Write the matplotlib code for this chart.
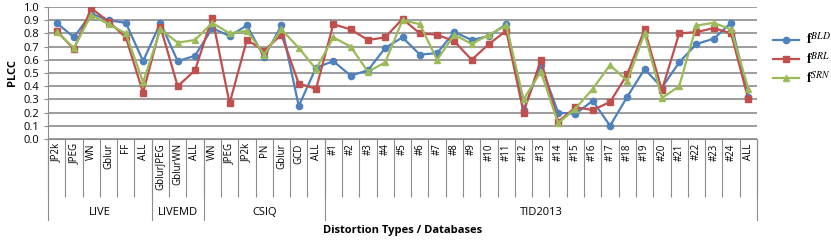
import matplotlib
matplotlib.use("Agg")
from matplotlib import pyplot as plt
import numpy

plt.rcParams['font.family'] = ['Open Sans', 'DejaVu Sans']
plt.rcParams['mathtext.fontset'] = 'stix'

categories = ['JP2k', 'JPEG', 'WN', 'Gblur', 'FF', 'ALL',
              'GblurJPEG', 'GblurWN', 'ALL',
              'WN', 'JPEG', 'JP2k', 'PN', 'Gblur', 'GCD', 'ALL'] + \
             ['#%d' % k for k in range(1, 25)] + ['ALL']
groups = ['LIVE', 'LIVEMD', 'CSIQ', 'TID2013']
group_sizes = [6, 3, 7, 25]

bld = [0.88, 0.77, 0.95, 0.90, 0.88, 0.59,
       0.88, 0.59, 0.63,
       0.84, 0.78, 0.86, 0.62, 0.86, 0.25, 0.54,
       0.59, 0.48, 0.52, 0.69, 0.77, 0.64, 0.65, 0.81, 0.75, 0.78,
       0.87, 0.22, 0.56, 0.20, 0.19, 0.29, 0.10, 0.32, 0.53, 0.39,
       0.58, 0.72, 0.76, 0.88, 0.32]
brl = [0.82, 0.68, 0.99, 0.89, 0.77, 0.35,
       0.85, 0.40, 0.52,
       0.92, 0.27, 0.75, 0.67, 0.79, 0.42, 0.38,
       0.87, 0.83, 0.75, 0.77, 0.91, 0.80, 0.79, 0.74, 0.60, 0.72,
       0.82, 0.20, 0.60, 0.13, 0.24, 0.22, 0.28, 0.49, 0.83, 0.37,
       0.80, 0.81, 0.84, 0.80, 0.30]
srn = [0.81, 0.69, 0.94, 0.87, 0.80, 0.43,
       0.83, 0.73, 0.75,
       0.88, 0.80, 0.82, 0.64, 0.83, 0.69, 0.53,
       0.77, 0.70, 0.51, 0.58, 0.90, 0.87, 0.60, 0.79, 0.72, 0.79,
       0.86, 0.30, 0.51, 0.12, 0.23, 0.38, 0.56, 0.44, 0.80, 0.31,
       0.40, 0.86, 0.88, 0.83, 0.38]

grey = '#8c8c8c'
fig = plt.figure(figsize=(8.31, 2.41), dpi=100)
ax = fig.add_axes([48/831, 102/241, 709/831, 132/241])

x = numpy.arange(len(categories)) + 0.5
ax.plot(x, bld, '-o', color='#4F81BD', lw=1.6, ms=4.5, label=r'$\mathbf{f}^{BLD}$')
ax.plot(x, brl, '-s', color='#C0504D', lw=1.6, ms=4.5, label=r'$\mathbf{f}^{BRL}$')
ax.plot(x, srn, '-^', color='#9BBB59', lw=1.6, ms=5, label=r'$\mathbf{f}^{SRN}$')

ax.set_xlim(0, len(categories))
ax.set_ylim(0, 1.0)
ax.set_yticks(numpy.arange(0, 1.01, 0.1))
ax.set_yticklabels(['%.1f' % v for v in numpy.arange(0, 1.01, 0.1)], fontsize=8)
ax.yaxis.grid(True, color=grey, lw=1.2)
ax.set_axisbelow(True)
for s in ('top', 'right'):
    ax.spines[s].set_visible(False)
for s in ('left', 'bottom'):
    ax.spines[s].set_color(grey)
ax.tick_params(axis='y', color=grey, length=3)

ax.set_xticks(x)
ax.set_xticklabels(categories, rotation=90, fontsize=7)
ax.tick_params(axis='x', length=0, pad=3)
ax.set_xticks(numpy.arange(len(categories) + 1), minor=True)
ax.tick_params(axis='x', which='minor', length=42, color=grey, width=0.8)

# group separators and names
trans = ax.get_xaxis_transform()
bounds = numpy.concatenate([[0], numpy.cumsum(group_sizes)])
for b in bounds:
    ax.plot([b, b], [0, -0.61], color=grey, lw=0.8, transform=trans, clip_on=False)
for name, a, b in zip(groups, bounds[:-1], bounds[1:]):
    ax.text((a + b) / 2, -0.56, name, transform=trans, ha='center', va='center', fontsize=8)

ax.set_ylabel('PLCC', fontsize=8, fontweight='bold', labelpad=4)
ax.text(0.5, -0.69, 'Distortion Types / Databases', transform=ax.transAxes,
        ha='center', va='center', fontsize=8, fontweight='bold')

ax.legend(loc='center left', bbox_to_anchor=(1.0226, 0.60), frameon=False,
          fontsize=10, handlelength=1.9, handletextpad=0.45, labelspacing=0.2,
          borderaxespad=0, borderpad=0)

fig.savefig('out.png', dpi=100)
